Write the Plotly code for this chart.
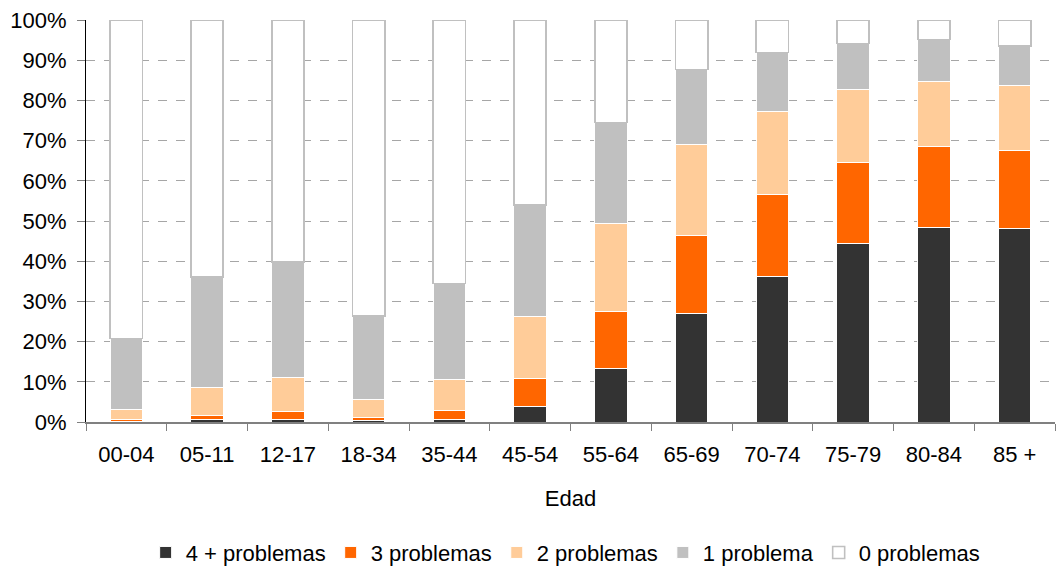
import plotly.graph_objects as go

categories = ["00-04", "05-11", "12-17", "18-34", "35-44", "45-54",
              "55-64", "65-69", "70-74", "75-79", "80-84", "85 +"]

p4 = [0.2, 0.5, 0.5, 0.4, 0.7, 3.8, 13.4, 27.1, 36.3, 44.4, 48.5, 48.1]
p3 = [0.3, 1.0, 2.0, 0.7, 2.2, 6.9, 14.2, 19.2, 20.4, 20.1, 20.1, 19.5]
p2 = [2.6, 7.2, 8.6, 4.5, 7.7, 15.6, 21.8, 22.8, 20.5, 18.2, 16.0, 16.0]
p1 = [17.7, 27.3, 28.7, 20.7, 23.9, 27.7, 25.1, 18.6, 14.7, 11.5, 10.6, 10.0]
p0 = [79.2, 64.0, 60.2, 73.7, 65.5, 46.0, 25.5, 12.3, 8.1, 5.8, 4.8, 6.4]

names = ["4 + problemas", "3 problemas", "2 problemas", "1 problema", "0 problemas"]
series = [p4, p3, p2, p1, p0]
fills = ["#333333", "#FF6600", "#FFCC99", "#C0C0C0", "#FFFFFF"]
lines = ["#FFFFFF", "#FFFFFF", "#FFFFFF", "#FFFFFF", "#C0C0C0"]
lwidths = [1, 1, 1, 1, 1.6]

fig = go.Figure()
for n, s, f, lc, lw in zip(names, series, fills, lines, lwidths):
    fig.add_trace(go.Bar(
        x=categories, y=[v / 100 for v in s], name=n,
        marker=dict(color=f, line=dict(color=lc, width=lw)),
    ))

font = "Liberation Sans, Arial, sans-serif"
fig.update_layout(
    width=1056, height=570,
    barmode="stack", bargap=0.6,
    plot_bgcolor="white", paper_bgcolor="white",
    margin=dict(l=86, r=1, t=20, b=148, autoexpand=False),
    font=dict(family=font, size=22, color="#000000"),
    showlegend=True,
    legend=dict(orientation="h", x=0.495, xanchor="center", y=-0.325, yanchor="middle",
                traceorder="normal", font=dict(size=22), itemwidth=30,
                bgcolor="rgba(0,0,0,0)"),
    xaxis=dict(
        type="category", showgrid=False, showline=True, linecolor="#808080", linewidth=2,
        ticks="outside", tickson="boundaries", ticklen=7, tickcolor="#808080",
        tickfont=dict(size=22), ticklabelstandoff=12, automargin=False,
        title=dict(text="Edad", font=dict(size=22), standoff=24),
    ),
    yaxis=dict(
        range=[0, 1.0], tickformat=".0%", dtick=0.1, showgrid=True,
        gridcolor="#A6A6A6", griddash="dash", gridwidth=1,
        showline=True, linecolor="#000000", linewidth=1,
        ticks="outside", ticklen=8, tickcolor="#808080", ticklabelstandoff=6,
        tickfont=dict(size=22), zeroline=False, automargin=False,
        ticklabeloverflow="allow",
    ),
)

# remove the browser's default 8px body margin so the figure fills the window exactly
fig.write_html("out.html", config={"displayModeBar": False},
               post_script="document.body.style.margin='0px';")
